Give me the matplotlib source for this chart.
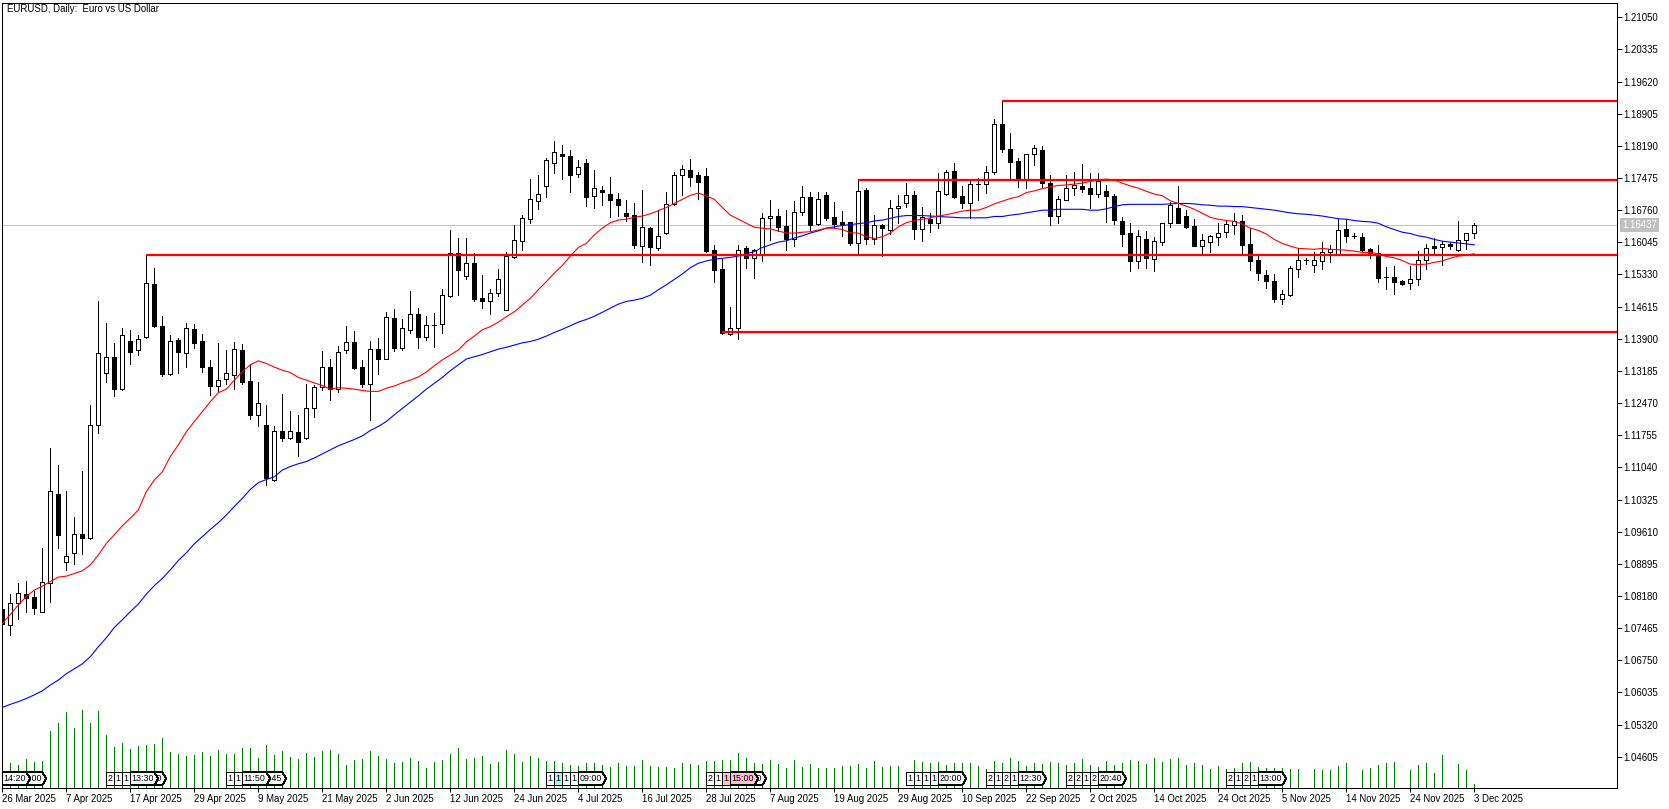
import matplotlib
matplotlib.use("Agg")
import matplotlib.pyplot as plt
from matplotlib.patches import Polygon
from matplotlib.transforms import blended_transform_factory

plt.rcParams['font.family'] = ['Liberation Sans', 'DejaVu Sans']

opens = [
1.0788,1.0753,1.0802,1.0822,1.0816,1.0783,1.0846,1.1045,1.0893,1.0913,
1.0956,1.0946,1.1198,1.1315,1.1349,1.1279,1.1385,1.1364,1.1395,1.1512,
1.1418,1.1312,1.1387,1.1359,1.1412,1.1385,1.1327,1.1286,1.1301,1.1310,
1.1365,1.1296,1.1220,1.1198,1.1077,1.1184,1.1170,1.1183,1.1170,1.1235,
1.1282,1.1327,1.1278,1.1364,1.1383,1.1327,1.1289,1.1367,1.1346,1.1436,
1.1369,1.1410,1.1444,1.1395,1.1420,1.1422,1.1485,1.1580,1.1530,1.1558,
1.1480,1.1475,1.1491,1.1455,1.1571,1.1607,1.1656,1.1696,1.1729,1.1782,
1.1800,1.1796,1.1756,1.1782,1.1707,1.1720,1.1711,1.1700,1.1669,1.1665,
1.1597,1.1636,1.1591,1.1625,1.1689,1.1754,1.1765,1.1754,1.1751,1.1587,
1.1545,1.1401,1.1413,1.1591,1.1569,1.1576,1.1658,1.1662,1.1641,1.1613,
1.1671,1.1705,1.1645,1.1709,1.1661,1.1649,1.1649,1.1602,1.1720,1.1612,
1.1642,1.1633,1.1680,1.1693,1.1709,1.1635,1.1656,1.1648,1.1711,1.1763,
1.1707,1.1693,1.1734,1.1734,1.1760,1.1867,1.1811,1.1785,1.1745,1.1800,
1.1809,1.1736,1.1664,1.1698,1.1725,1.1730,1.1725,1.1711,1.1718,1.1708,
1.1652,1.1625,1.1564,1.1612,1.1568,1.1606,1.1647,1.1681,1.1663,1.1641,
1.1596,1.1605,1.1617,1.1628,1.1644,1.1652,1.1601,1.1565,1.1532,1.1518,
1.1479,1.1487,1.1546,1.1565,1.1555,1.1564,1.1583,1.1579,1.1634,1.1619,
1.1616,1.1589,1.1580,1.1527,1.1527,1.1518,1.1513,1.1522,1.1565,1.1596,
1.1595,1.1600,1.1587,1.1609,1.1625]
closes = [
1.0755,1.0802,1.0824,1.0814,1.0792,1.0848,1.1051,1.0954,1.0908,1.0955,
1.0946,1.1198,1.1358,1.1349,1.1279,1.1398,1.1361,1.1389,1.1513,1.1418,
1.1312,1.1384,1.1361,1.1415,1.1381,1.1328,1.1286,1.1298,1.1313,1.1367,
1.1294,1.1221,1.1247,1.1080,1.1184,1.1170,1.1184,1.1161,1.1235,1.1282,
1.1327,1.1278,1.1360,1.1382,1.1325,1.1290,1.1367,1.1346,1.1438,1.1370,
1.1413,1.1444,1.1393,1.1420,1.1420,1.1487,1.1580,1.1544,1.1558,1.1479,
1.1475,1.1491,1.1522,1.1574,1.1609,1.1658,1.1700,1.1711,1.1787,1.1805,
1.1797,1.1755,1.1771,1.1706,1.1725,1.1717,1.1699,1.1688,1.1663,1.1599,
1.1638,1.1595,1.1618,1.1689,1.1754,1.1767,1.1749,1.1739,1.1585,1.1544,
1.1402,1.1413,1.1587,1.1569,1.1587,1.1658,1.1662,1.1639,1.1613,1.1673,
1.1705,1.1644,1.1700,1.1659,1.1645,1.1645,1.1604,1.1718,1.1613,1.1642,
1.1636,1.1680,1.1685,1.1709,1.1635,1.1660,1.1648,1.1718,1.1762,1.1706,
1.1693,1.1734,1.1734,1.1760,1.1867,1.1811,1.1784,1.1743,1.1802,1.1814,
1.1736,1.1664,1.1700,1.1725,1.1731,1.1724,1.1713,1.1740,1.1708,1.1655,
1.1624,1.1564,1.1618,1.1569,1.1607,1.1647,1.1688,1.1648,1.1639,1.1596,
1.1609,1.1618,1.1625,1.1645,1.1651,1.1599,1.1563,1.1536,1.1518,1.1479,
1.1489,1.1547,1.1565,1.1565,1.1565,1.1582,1.1589,1.1633,1.1619,1.1619,
1.1587,1.1579,1.1526,1.1527,1.1516,1.1512,1.1522,1.1565,1.1593,1.1593,
1.1600,1.1597,1.1609,1.1625,1.1644]
highs = [
1.0802,1.0822,1.0846,1.0851,1.0829,1.0924,1.1146,1.1109,1.1052,1.0993,
1.1096,1.1243,1.1474,1.1425,1.1381,1.1413,1.1410,1.1398,1.1576,1.1547,
1.1441,1.1398,1.1392,1.1425,1.1423,1.1401,1.1343,1.1381,1.1365,1.1383,
1.1378,1.1335,1.1294,1.1243,1.1196,1.1267,1.1229,1.1221,1.1289,1.1287,
1.1363,1.1345,1.1375,1.1418,1.1407,1.1343,1.1386,1.1392,1.1450,1.1456,
1.1434,1.1496,1.1459,1.1441,1.1447,1.1501,1.1632,1.1614,1.1614,1.1581,
1.1532,1.1501,1.1545,1.1583,1.1643,1.1665,1.1745,1.1754,1.1791,1.1830,
1.1821,1.1810,1.1788,1.1790,1.1765,1.1730,1.1750,1.1714,1.1699,1.1692,
1.1721,1.1639,1.1674,1.1716,1.1761,1.1777,1.1790,1.1761,1.1770,1.1599,
1.1567,1.1461,1.1599,1.1596,1.1589,1.1670,1.1699,1.1679,1.1676,1.1696,
1.1730,1.1716,1.1716,1.1716,1.1694,1.1674,1.1650,1.1743,1.1725,1.1665,
1.1645,1.1699,1.1710,1.1737,1.1718,1.1683,1.1670,1.1759,1.1765,1.1781,
1.1730,1.1741,1.1748,1.1774,1.1879,1.1919,1.1848,1.1792,1.1802,1.1821,
1.1819,1.1754,1.1708,1.1754,1.1761,1.1779,1.1759,1.1759,1.1732,1.1712,
1.1661,1.1648,1.1632,1.1630,1.1616,1.1647,1.1694,1.1730,1.1676,1.1656,
1.1623,1.1621,1.1648,1.1654,1.1670,1.1665,1.1636,1.1577,1.1543,1.1534,
1.1499,1.1552,1.1591,1.1570,1.1583,1.1605,1.1599,1.1656,1.1656,1.1625,
1.1625,1.1591,1.1599,1.1550,1.1552,1.1521,1.1552,1.1585,1.1601,1.1614,
1.1607,1.1605,1.1652,1.1625,1.1648]
lows = [
1.0746,1.0732,1.0766,1.0783,1.0778,1.0782,1.0805,1.0924,1.0876,1.0889,
1.0911,1.0944,1.1181,1.1294,1.1263,1.1277,1.1334,1.1354,1.1392,1.1416,
1.1308,1.1310,1.1314,1.1327,1.1370,1.1316,1.1265,1.1274,1.1289,1.1278,
1.1290,1.1212,1.1196,1.1065,1.1074,1.1163,1.1168,1.1129,1.1168,1.1216,
1.1276,1.1254,1.1272,1.1358,1.1323,1.1283,1.1209,1.1312,1.1344,1.1363,
1.1364,1.1402,1.1369,1.1387,1.1371,1.1402,1.1482,1.1487,1.1523,1.1474,
1.1458,1.1445,1.1485,1.1453,1.1570,1.1588,1.1648,1.1679,1.1705,1.1759,
1.1745,1.1716,1.1750,1.1685,1.1681,1.1688,1.1661,1.1664,1.1652,1.1593,
1.1561,1.1554,1.1588,1.1623,1.1688,1.1710,1.1730,1.1701,1.1583,1.1516,
1.1400,1.1398,1.1390,1.1547,1.1525,1.1563,1.1610,1.1629,1.1588,1.1596,
1.1665,1.1629,1.1643,1.1654,1.1636,1.1619,1.1599,1.1581,1.1601,1.1601,
1.1573,1.1623,1.1647,1.1683,1.1612,1.1607,1.1627,1.1636,1.1709,1.1702,
1.1681,1.1659,1.1699,1.1714,1.1756,1.1805,1.1748,1.1728,1.1725,1.1777,
1.1725,1.1643,1.1648,1.1698,1.1710,1.1716,1.1680,1.1705,1.1650,1.1645,
1.1596,1.1541,1.1547,1.1547,1.1541,1.1599,1.1639,1.1647,1.1636,1.1596,
1.1577,1.1583,1.1599,1.1616,1.1623,1.1579,1.1544,1.1521,1.1503,1.1472,
1.1467,1.1485,1.1527,1.1556,1.1539,1.1545,1.1561,1.1577,1.1605,1.1614,
1.1585,1.1570,1.1517,1.1501,1.1490,1.1510,1.1501,1.1510,1.1545,1.1579,
1.1554,1.1590,1.1585,1.1590,1.1614]
ma_red = [
1.0757,1.0777,1.0798,1.0817,1.0831,1.0840,1.0850,1.0860,1.0862,1.0868,
1.0874,1.0887,1.0909,1.0935,1.0954,1.0974,1.0991,1.1009,1.1050,1.1076,
1.1094,1.1128,1.1154,1.1183,1.1206,1.1228,1.1250,1.1270,1.1278,1.1298,
1.1317,1.1332,1.1341,1.1335,1.1327,1.1320,1.1315,1.1304,1.1298,1.1292,
1.1286,1.1278,1.1281,1.1280,1.1278,1.1275,1.1273,1.1273,1.1280,1.1285,
1.1292,1.1298,1.1305,1.1316,1.1330,1.1343,1.1354,1.1365,1.1383,1.1396,
1.1410,1.1417,1.1427,1.1439,1.1450,1.1465,1.1480,1.1499,1.1517,1.1536,
1.1553,1.1574,1.1593,1.1602,1.1621,1.1636,1.1648,1.1654,1.1656,1.1660,
1.1663,1.1668,1.1675,1.1682,1.1691,1.1700,1.1709,1.1714,1.1708,1.1700,
1.1682,1.1665,1.1656,1.1647,1.1638,1.1636,1.1634,1.1630,1.1625,1.1625,
1.1627,1.1628,1.1632,1.1636,1.1636,1.1633,1.1626,1.1625,1.1617,1.1613,
1.1617,1.1625,1.1639,1.1648,1.1653,1.1656,1.1659,1.1663,1.1666,1.1670,
1.1674,1.1676,1.1676,1.1682,1.1690,1.1696,1.1702,1.1706,1.1715,1.1719,
1.1724,1.1728,1.1731,1.1732,1.1734,1.1736,1.1740,1.1743,1.1745,1.1743,
1.1736,1.1730,1.1725,1.1718,1.1712,1.1708,1.1697,1.1691,1.1685,1.1678,
1.1669,1.1660,1.1656,1.1653,1.1651,1.1645,1.1636,1.1631,1.1623,1.1611,
1.1602,1.1596,1.1591,1.1590,1.1589,1.1591,1.1589,1.1588,1.1587,1.1585,
1.1582,1.1582,1.1579,1.1573,1.1570,1.1564,1.1556,1.1555,1.1556,1.1560,
1.1563,1.1569,1.1574,1.1576,1.1579]
ma_blue = [
1.0570,1.0577,1.0583,1.0590,1.0598,1.0607,1.0620,1.0631,1.0645,1.0656,
1.0667,1.0683,1.0705,1.0725,1.0748,1.0765,1.0783,1.0800,1.0822,1.0841,
1.0857,1.0876,1.0897,1.0914,1.0934,1.0950,1.0966,1.0981,1.0998,1.1017,
1.1035,1.1055,1.1070,1.1077,1.1083,1.1098,1.1106,1.1112,1.1117,1.1125,
1.1134,1.1143,1.1152,1.1159,1.1166,1.1174,1.1186,1.1195,1.1206,1.1221,
1.1235,1.1249,1.1263,1.1278,1.1291,1.1304,1.1319,1.1332,1.1345,1.1350,
1.1355,1.1361,1.1367,1.1371,1.1376,1.1381,1.1384,1.1389,1.1396,1.1404,
1.1411,1.1419,1.1427,1.1433,1.1440,1.1449,1.1458,1.1467,1.1473,1.1476,
1.1480,1.1487,1.1499,1.1510,1.1522,1.1534,1.1548,1.1558,1.1563,1.1567,
1.1569,1.1571,1.1574,1.1579,1.1584,1.1593,1.1599,1.1605,1.1608,1.1614,
1.1619,1.1625,1.1630,1.1636,1.1639,1.1642,1.1644,1.1646,1.1648,1.1652,
1.1654,1.1658,1.1662,1.1664,1.1664,1.1664,1.1663,1.1662,1.1661,1.1660,
1.1659,1.1659,1.1659,1.1659,1.1662,1.1662,1.1665,1.1667,1.1670,1.1673,
1.1676,1.1676,1.1678,1.1678,1.1678,1.1678,1.1676,1.1676,1.1679,1.1684,
1.1688,1.1689,1.1689,1.1689,1.1689,1.1689,1.1690,1.1691,1.1691,1.1690,
1.1688,1.1687,1.1685,1.1685,1.1684,1.1684,1.1682,1.1680,1.1678,1.1676,
1.1673,1.1670,1.1668,1.1667,1.1665,1.1663,1.1660,1.1657,1.1656,1.1653,
1.1651,1.1650,1.1647,1.1639,1.1633,1.1627,1.1624,1.1619,1.1616,1.1611,
1.1607,1.1605,1.1603,1.1601,1.1599]
volumes = [
80,76,70,88,79,82,172,196,229,181,
235,196,232,160,124,136,118,127,130,133,
151,109,103,97,100,109,97,115,103,103,
121,121,91,130,100,112,94,88,106,94,
112,115,103,70,85,88,112,97,88,76,
79,91,82,61,79,85,103,121,88,91,
97,73,79,115,103,79,97,91,82,82,
76,70,67,76,76,70,64,76,67,67,
85,67,64,64,61,76,73,70,82,82,
85,85,106,91,76,73,85,73,61,85,
64,73,61,61,61,67,67,73,61,82,
64,67,67,0,85,79,76,79,70,76,
76,76,67,58,82,76,91,82,67,76,
73,79,76,70,76,88,70,64,82,70,
76,85,82,73,91,79,88,91,70,76,
70,58,67,58,61,76,79,64,61,61,
61,58,58,0,58,55,55,67,76,0,
55,61,70,76,79,0,55,70,76,46,
100,0,73,55,13]

date_labels = ["26 Mar 2025","7 Apr 2025","17 Apr 2025","29 Apr 2025","9 May 2025","21 May 2025",
"2 Jun 2025","12 Jun 2025","24 Jun 2025","4 Jul 2025","16 Jul 2025","28 Jul 2025","7 Aug 2025",
"19 Aug 2025","29 Aug 2025","10 Sep 2025","22 Sep 2025","2 Oct 2025","14 Oct 2025","24 Oct 2025",
"5 Nov 2025","14 Nov 2025","24 Nov 2025","3 Dec 2025"]
price_ticks = [1.21050,1.20335,1.19620,1.18905,1.18190,1.17475,1.16760,1.16045,1.15330,1.14615,
1.13900,1.13185,1.12470,1.11755,1.11040,1.10325,1.09610,1.08895,1.08180,1.07465,1.06750,1.06035,1.05320,1.04605]
level_prices = [1.19195,1.17432,1.15764,1.14051]
level_starts = [125,107,18,90]
last_price = 1.16437
tag_bars = [13,14,15,28,29,68,69,70,71,88,89,90,113,114,115,116,123,124,125,126,133,134,135,136,153,154,155,156]
tag_texts = ["2","1","1","1","1","1","1","1","1","2","1","1","1","1","1","1","2","1","2","1","2","2","1","2","2","1","2","1"]
time_tag_bars = [0,2,16,17,30,32,72,91,92,117,127,137,157]
time_tag_texts = ["14:20","15:00","13:30","14:00","11:50","09:45","09:00","15:00","20:00","20:00","12:30","20:40","13:00"]
tinted_bars = {69:"#b4f0f0",90:"#ffc0cb",91:"#ffc0cb"}

W,H = 1669,809
fig = plt.figure(figsize=(W/100,H/100),dpi=100,facecolor="white")
rect = [2.33/W,(H-788.33)/H,(1616.7-2.33)/W,(788.33-2.67)/H]
xlim = (0,201.8)
FS = 6.9
TAG_FS = 6.4
AA = False

axv = fig.add_axes(rect,zorder=0)
axv.set_xlim(*xlim); axv.set_ylim(0,2357)
axv.axis("off")
xs = list(range(len(closes)))
axv.vlines(xs,0,volumes,color="#008000",lw=0.65,antialiased=AA)

def tag(x,txt,fc,timed,z):
    if timed:
        pts = [(x,10),(x+3.0,10),(x+3.5,29),(x+3.0,48),(x,48)]
        tx = x+1.55
    else:
        pts = [(x,10),(x+0.92,10),(x+0.92,48),(x,48)]
        tx = x+0.46
    axv.add_patch(Polygon(pts,closed=True,fc=fc,ec="black",lw=0.6,zorder=z,antialiased=AA))
    axv.text(tx,28,txt,ha="center",va="center",fontsize=TAG_FS,color="black",zorder=z+0.001)

for b,t in zip(tag_bars,tag_texts):
    tag(b,t,tinted_bars.get(b,"white"),False,5-b*0.01)
for b,t in zip(time_tag_bars,time_tag_texts):
    tag(b,t,tinted_bars.get(b,"white"),True,5-b*0.01)

ax = fig.add_axes(rect,zorder=1)
ax.patch.set_alpha(0)
ax.set_xlim(*xlim)
ax.set_ylim(1.03902,1.21375)
ax.axhline(last_price,color="#c0c0c0",lw=0.7,zorder=1)

ax.vlines(xs,lows,highs,color="black",lw=0.65,zorder=2,antialiased=AA)
tops = [max(o,c) for o,c in zip(opens,closes)]
bots = [min(o,c) for o,c in zip(opens,closes)]
fills = ["white" if c>=o else "black" for o,c in zip(opens,closes)]
ax.bar(xs,[t-b for t,b in zip(tops,bots)],bottom=bots,width=0.5,color=fills,edgecolor="black",lw=0.6,zorder=3,antialiased=AA)

ax.plot(xs,ma_blue,color="#0000ff",lw=0.8,zorder=4)
ax.plot(xs,ma_red,color="#ff0000",lw=0.8,zorder=4)
ax.hlines(level_prices,level_starts,xlim[1],color="#ff0000",lw=1.6,zorder=5)

for s in ax.spines.values():
    s.set_linewidth(0.75); s.set_color("black")
ax.yaxis.tick_right()
ax.set_yticks(price_ticks)
ax.set_yticklabels([f"{p:.5f}" for p in price_ticks],fontsize=FS)
ax.tick_params(axis="y",length=3.4,width=0.7,pad=1.2)
ax.set_xticks(xs[::8])
ax.set_xticklabels(date_labels,fontsize=FS,ha="left")
ax.tick_params(axis="x",length=3,width=0.7,pad=1.2)

tr = blended_transform_factory(ax.transAxes,ax.transData)
ax.text(1+5.5/1614,last_price,f"{last_price:.5f}",transform=tr,ha="left",va="center",fontsize=FS,color="white",
        bbox=dict(facecolor="#c0c0c0",edgecolor="none",pad=1.4),clip_on=False,zorder=6)
ax.text(4.5/1614,1-6.5/785.66,"EURUSD, Daily:  Euro vs US Dollar",transform=ax.transAxes,ha="left",va="center",fontsize=FS,color="black",zorder=6)

fig.savefig("out.png",dpi=100)
